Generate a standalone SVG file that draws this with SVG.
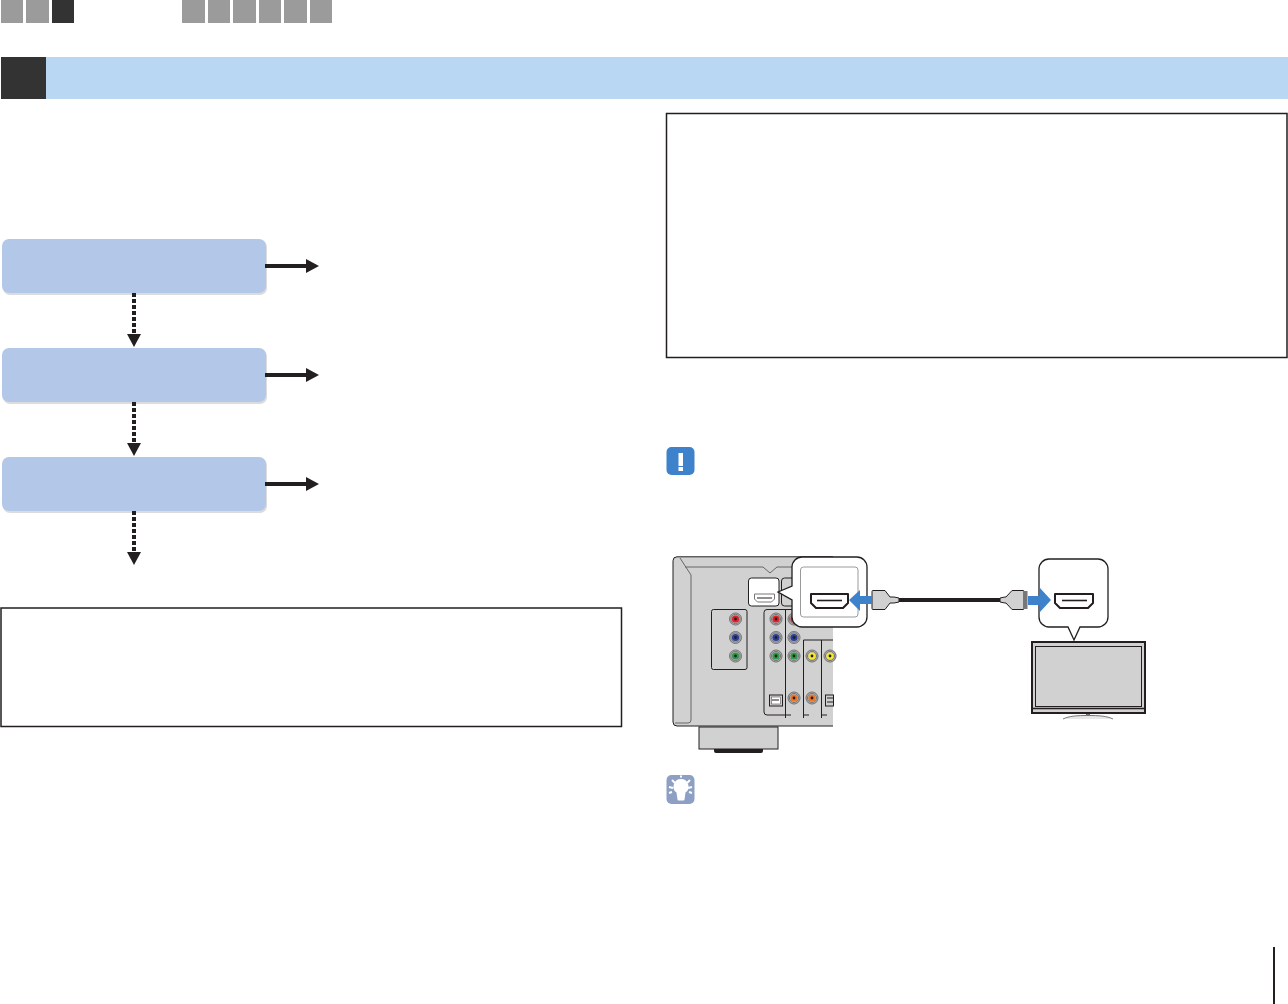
<svg xmlns="http://www.w3.org/2000/svg" width="1288" height="1004" viewBox="0 0 1288 1004">
<defs>
<style>
.tab{fill:#9b9b9b}.dk{fill:#333}
.flow{fill:#b3c7e9}.shadow{fill:#dcdcdc}
.box{fill:#fff;stroke:#231f20;stroke-width:1.5}
.con{stroke:#231f20;stroke-width:4;fill:none}
.dash{stroke-dasharray:4 2}
.head{fill:#231f20}
.l{stroke:#231f20;stroke-width:1;fill:none}
.g{stroke:#666;stroke-width:1;fill:none}
.body{fill:#d1d1d1;stroke:#231f20;stroke-width:1}
.bubble{fill:#fff;stroke:#231f20;stroke-width:1.3}
.hole{fill:#231f20}
.port{fill:#fff;stroke:#231f20;stroke-width:2;stroke-linejoin:round}
.blue{fill:#3f82cc}
</style>
<g id="jack">
<circle r="6.500" fill="#b5b5b5"/><circle r="6" fill="none" stroke="#6a6a6a" stroke-width=".8"/><circle r="4.600" fill="none" stroke="#6a6a6a" stroke-width=".8"/>
<circle r="3.600"/><circle r="1.400" class="hole"/>
</g>
</defs>
<g id="tabs">
<rect class="tab" x="1" y="0" width="22" height="23"/>
<rect class="tab" x="26" y="0" width="23" height="23"/>
<rect class="dk" x="52" y="0" width="22" height="23"/>
<rect class="tab" x="182" y="0" width="23" height="23"/>
<rect class="tab" x="208" y="0" width="22" height="23"/>
<rect class="tab" x="233" y="0" width="23" height="23"/>
<rect class="tab" x="259" y="0" width="22" height="23"/>
<rect class="tab" x="284" y="0" width="23" height="23"/>
<rect class="tab" x="310" y="0" width="22" height="23"/>
</g>
<g id="header">
<rect x="46" y="57" width="1242" height="42" fill="#b9d6f2"/>
<rect class="dk" x="1" y="57" width="45" height="42"/>
</g>
<g id="step1"><rect class="shadow" x="3" y="240" width="264" height="55" rx="7"/><rect class="flow" x="2" y="239" width="264" height="54" rx="7"/></g>
<g id="step2"><rect class="shadow" x="3" y="349" width="264" height="55" rx="7"/><rect class="flow" x="2" y="348" width="264" height="54" rx="7"/></g>
<g id="step3"><rect class="shadow" x="3" y="458" width="264" height="55" rx="7"/><rect class="flow" x="2" y="457" width="264" height="54" rx="7"/></g>
<g id="connectors">
<path class="con" d="M265 266H307"/><path class="head" d="M306 259L319 266L306 273Z"/>
<path class="con" d="M265 375H307"/><path class="head" d="M306 368L319 375L306 382Z"/>
<path class="con" d="M265 484H307"/><path class="head" d="M306 477L319 484L306 491Z"/>
<path class="con dash" d="M134 293V334"/><path class="head" d="M127 334L134 347L141 334Z"/>
<path class="con dash" d="M134 402V443"/><path class="head" d="M127 443L134 456L141 443Z"/>
<path class="con dash" d="M134 511V552"/><path class="head" d="M127 552L134 565L141 552Z"/>
</g>
<g id="note-left"><rect class="box" x="1" y="608" width="620.500" height="118.500"/></g>
<g id="note-right"><rect class="box" x="666.500" y="113.500" width="620.500" height="244"/></g>
<g id="icon-alert">
<rect class="blue" x="666.500" y="447" width="28" height="28" rx="5"/>
<rect x="678.500" y="453" width="4.500" height="13" fill="#fff"/><rect x="678.500" y="467" width="4.500" height="4" fill="#fff"/>
</g>
<g id="icon-tip">
<rect x="666.500" y="775" width="28" height="29" rx="5" fill="#8e9fc4"/>
<path d="M681 779a7.500 7.500 0 0 1 4.500 13.500l-1 7a1 1 0 0 1-1 1h-5a1 1 0 0 1-1-1l-1-7a7.500 7.500 0 0 1 4.500-13.500Z" fill="#fff"/>
<path d="M669 787l4 1M672 780l3 3M692 787l-4 1M690 780l-3 3M681 775.500v2M669 793l3-1M692 793l-3-1" stroke="#fff" stroke-width="2"/>
</g>
<g id="receiver">
<path class="body" d="M833 556.800H677a4 4 0 0 0-4 4V722a4 4 0 0 0 4 4H833" stroke-width="2"/>
<path class="g" d="M680 558L691 575V720a3 3 0 0 1-3 3H675M685 567H763L770 573L777 567H792"/>
<rect class="body" x="699" y="727" width="79" height="22"/>
<path d="M714 749h49v2a2 2 0 0 1-2 2h-45a2 2 0 0 1-2-2z" fill="#231f20"/>
<rect class="l" x="711.500" y="609.500" width="35.500" height="60" rx="2"/>
<path class="l" d="M833 609.500H767a3 3 0 0 0-3 3V712a3 3 0 0 0 3 3H785.500M785.500 609V718M803.500 640V718M821.500 640V718M803.500 640H833M786 715H791M804 715H809M822 715H827"/>
<g fill="#e01f26"><use href="#jack" x="735.500" y="619"/><use href="#jack" x="776" y="619"/><use href="#jack" x="794" y="619"/></g>
<g fill="#2b3f9e"><use href="#jack" x="735.500" y="637.500"/><use href="#jack" x="776" y="637.500"/><use href="#jack" x="794" y="637.500"/></g>
<g fill="#2d9a47"><use href="#jack" x="735.500" y="656"/><use href="#jack" x="776" y="656"/><use href="#jack" x="794" y="656"/></g>
<g fill="#f5e928"><use href="#jack" x="812" y="656"/><use href="#jack" x="830" y="656"/></g>
<g fill="#ee7423"><use href="#jack" x="794" y="698"/><use href="#jack" x="812" y="698"/></g>
<rect x="769.500" y="695" width="13" height="11" fill="#d1d1d1" stroke="#231f20"/><rect x="771.500" y="697" width="9" height="7" fill="#fff" stroke="#555" stroke-width=".6"/><path class="l" d="M772 700h7"/>
<rect x="825.500" y="695" width="8" height="11" fill="#d1d1d1" stroke="#231f20"/><path class="l" d="M827 698h6M827 702h6"/>
<rect x="748.500" y="578" width="30.500" height="28" rx="3" fill="#fff" stroke="#231f20"/>
<rect x="781.500" y="578" width="30" height="28" rx="3" fill="#d1d1d1" stroke="#231f20"/>
<path d="M754.500 594h20v5l-3 3h-14l-3-3z" fill="#fff" stroke="#777" stroke-width="1"/>
<path d="M757 598h15" stroke="#231f20" stroke-width="1"/>
</g>
<g id="receiver-callout">
<path class="bubble" d="M802 557H857a10 10 0 0 1 10 10V617a10 10 0 0 1-10 10H802a10 10 0 0 1-10-10V600L778 592L792 586V567a10 10 0 0 1 10-10Z"/>
<rect x="800.500" y="567" width="57.500" height="50" rx="3" fill="#fff" stroke="#9a9a9a"/>
<path class="port" d="M811 594h37v9l-5 5h-27l-5-5z"/>
<path d="M817 600.500h25" stroke="#231f20" stroke-width="1.600"/>
</g>
<g id="tv-callout">
<path class="bubble" d="M1049 559H1098a10 10 0 0 1 10 10V617a10 10 0 0 1-10 10H1080L1074 640L1068 627H1049a10 10 0 0 1-10-10V569a10 10 0 0 1 10-10Z"/>
<path class="port" d="M1055 594h38v9l-5 5h-28l-5-5z"/>
<path d="M1062 600.500h25" stroke="#231f20" stroke-width="1.600"/>
</g>
<g id="tv">
<rect x="1032" y="642" width="113" height="71" fill="#d1d1d1" stroke="#231f20" stroke-width="2"/>
<rect x="1035.500" y="646.500" width="106" height="60" fill="#d1d1d1" stroke="#231f20" stroke-width="1"/>
<path d="M1032 708.500H1145" stroke="#231f20" stroke-width="1.500"/>
<path d="M1086 714h4v2h-4z" fill="#777"/>
<path d="M1063 719c6-3 14-3.500 25-3.500s19 .5 25 3.500" fill="#e8e8e8" stroke="#777"/>
</g>
<g id="cable">
<path d="M898 600H1002" stroke="#231f20" stroke-width="4"/>
<path class="body" d="M873 590.500h12l5 6.500h4l5 1v4l-5 1h-4l-5 6.500h-12a1 1 0 0 1-1-1v-17a1 1 0 0 1 1-1Z"/>
<path class="body" d="M1023 590.500h-11l-6 6.500h-1l-5 1v4l5 1h1l6 6.500h11a1 1 0 0 0 1-1v-17a1 1 0 0 0-1-1Z"/>
<rect x="1024" y="591" width="3.500" height="18" fill="#777"/>
<path class="blue" d="M849 600L860 590V596H872V604H860V611Z"/>
<path class="blue" d="M1051 600L1040 588V596H1028V605H1040V612Z"/>
</g>
<g id="page-mark"><rect x="1273" y="947" width="2" height="57" fill="#231f20"/></g>
</svg>
